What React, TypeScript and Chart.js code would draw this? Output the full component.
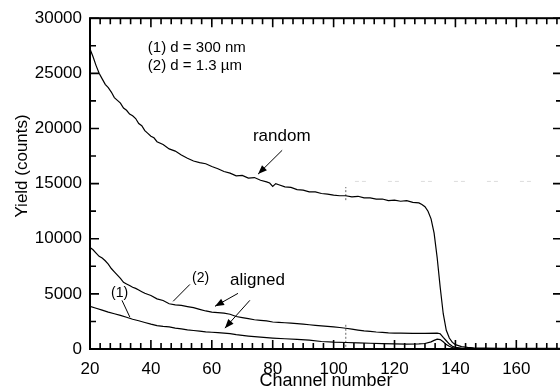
import React, { useEffect, useRef } from "react";
import { Chart, registerables } from "chart.js";

Chart.register(...registerables);

// ---- data ----
const xTickValues = [20, 40, 60, 80, 100, 120, 140, 160];
const yTickValues = [0, 5000, 10000, 15000, 20000, 25000, 30000];

const randomChannels = [
  20, 21, 22, 23, 24, 25, 26, 27, 28, 29, 30, 31, 32, 33, 34, 35, 36, 37, 38, 39, 40, 41, 42, 44, 46, 48, 50,
  52, 54, 56, 58, 60, 62, 64, 66, 68, 70, 72, 74, 76, 78, 79, 80, 81, 82, 84, 86, 88, 90, 92, 94, 96, 98, 100,
  102, 104, 106, 108, 110, 112, 114, 116, 118, 120, 122, 124, 126, 128, 129, 130, 131, 132, 133, 134, 135,
  136, 137, 138, 139, 140, 142, 144, 146, 150, 155, 160, 165, 170, 175,
];
const randomYield = [
  27200, 26500, 25700, 25000, 24500, 24000, 23700, 23300, 22800, 22550, 22300, 21850, 21650, 21300, 21150,
  20900, 20450, 20250, 19800, 19550, 19300, 19150, 18800, 18550, 18150, 17950, 17600, 17300, 17050, 16900,
  16800, 16550, 16350, 16100, 15950, 15700, 15750, 15500, 15550, 15300, 15150, 15050, 14750, 15000, 14900,
  14700, 14650, 14450, 14400, 14250, 14250, 14100, 14050, 13950, 13900, 13900, 13800, 13850, 13700, 13700,
  13600, 13600, 13450, 13500, 13400, 13450, 13300, 13250, 13100, 12900, 12500, 11800, 10500, 8300, 5600,
  3200, 1700, 1000, 600, 400, 220, 150, 100, 80, 60, 60, 50, 50, 50,
];

const aligned2Channels = [
  20, 21, 22, 23, 24, 25, 26, 27, 28, 29, 30, 31, 32, 33, 34, 35, 36, 37, 38, 40, 42, 44, 46, 48, 50, 52, 54,
  56, 58, 60, 62, 64, 66, 68, 70, 72, 74, 76, 78, 80, 82, 84, 86, 88, 90, 92, 94, 96, 98, 100, 102, 104, 106,
  108, 110, 112, 114, 116, 118, 120, 122, 126, 130, 134, 135, 136, 137, 138, 139, 140, 142, 145, 150, 160, 175,
];
const aligned2Yield = [
  9200, 9000, 8700, 8400, 8250, 8000, 7700, 7300, 7000, 6700, 6400, 6050, 5900, 5750, 5600, 5500, 5350, 5200,
  5050, 4850, 4550, 4400, 4100, 4000, 3950, 3850, 3750, 3600, 3450, 3350, 3300, 3250, 3150, 2950, 2850, 2750,
  2650, 2600, 2550, 2450, 2420, 2380, 2340, 2300, 2250, 2200, 2150, 2100, 2050, 2000, 1950, 1880, 1800, 1720,
  1650, 1600, 1540, 1500, 1460, 1440, 1440, 1420, 1420, 1440, 1380, 1050, 750, 450, 250, 150, 80, 40, 20, 20,
  20,
];

const aligned1Channels = [
  20, 22, 24, 26, 28, 30, 32, 34, 36, 38, 40, 42, 44, 46, 48, 50, 52, 54, 56, 58, 60, 62, 64, 66, 68, 70, 72,
  74, 76, 78, 80, 84, 88, 92, 96, 100, 104, 108, 112, 116, 120, 124, 128, 130, 132, 133, 134, 135, 136, 137,
  138, 139, 140, 145, 175,
];
const aligned1Yield = [
  3870, 3700, 3520, 3350, 3200, 3050, 2880, 2700, 2560, 2400, 2250, 2120, 2050, 2000, 1900, 1820, 1740, 1680,
  1620, 1560, 1520, 1480, 1440, 1400, 1300, 1230, 1170, 1120, 1080, 1030, 990, 930, 880, 800, 680, 620, 590,
  550, 520, 480, 460, 450, 460, 500, 650, 780, 900, 850, 650, 400, 250, 120, 60, 20, 20,
];

const markerUpperChannels = [104, 104];
const markerUpperYield = [13500, 14700];
const markerLowerChannels = [104, 104];
const markerLowerYield = [200, 2200];
const faintChannels = [107, 172];
const faintYield = [15200, 15200];

const xTitle = "Channel number";
const yTitle = "Yield (counts)";

// annotation texts (positions in data units)
const notes = [
  { text: "(1) d = 300 nm", x: 39, y: 26940, size: 15 },
  { text: "(2) d = 1.3 \u00b5m", x: 39, y: 25315, size: 15 },
  { text: "random", x: 73.5, y: 18830, size: 17 },
  { text: "aligned", x: 66, y: 5770, size: 17 },
  { text: "(2)", x: 53.5, y: 6036, size: 14 },
  { text: "(1)", x: 26.9, y: 4685, size: 14 },
];
const arrows = [
  { x1: 83.1, y1: 18020, x2: 75.2, y2: 15860, head: true },
  { x1: 68.6, y1: 5045, x2: 61.05, y2: 3874, head: true },
  { x1: 72.5, y1: 4414, x2: 64.3, y2: 1892, head: true },
  { x1: 52.8, y1: 5856, x2: 47.3, y2: 4324, head: false },
  { x1: 30.5, y1: 4414, x2: 33.1, y2: 2883, head: false },
];

const FONT = "'Liberation Sans', Arial, Helvetica, sans-serif";

const pts = (xs: number[], ys: number[]) => xs.map((x, i) => ({ x, y: ys[i] }));

const framePlugin = {
  id: "framePlugin",
  afterDraw(chart: any) {
    const { ctx, chartArea, scales } = chart;
    const xs = scales.x;
    const ys = scales.y;
    const { left, right, top, bottom } = chartArea;
    ctx.save();
    ctx.strokeStyle = "#000";
    ctx.lineWidth = 2;
    ctx.strokeRect(left, top, right - left, bottom - top);

    ctx.lineWidth = 1.6;
    ctx.beginPath();
    // x ticks: majors at xTickValues, 5 minors between
    const xStep = xTickValues[1] - xTickValues[0];
    for (let v = xTickValues[0]; v <= xs.max + 0.001; v += xStep / 6) {
      const rel = Math.round(((v - xTickValues[0]) / xStep) * 6);
      const major = rel % 6 === 0;
      const len = major ? 9 : 6;
      const px = xs.getPixelForValue(v);
      ctx.moveTo(px, bottom);
      ctx.lineTo(px, bottom - len);
      ctx.moveTo(px, top);
      ctx.lineTo(px, top + len);
    }
    const yStep = yTickValues[1] - yTickValues[0];
    for (let v = yTickValues[0]; v <= ys.max + 0.001; v += yStep / 2) {
      const major = Math.round(v) % yStep === 0;
      const len = major ? 9 : 6;
      const py = ys.getPixelForValue(v);
      ctx.moveTo(left, py);
      ctx.lineTo(left + len, py);
      ctx.moveTo(right, py);
      ctx.lineTo(right - len, py);
    }
    ctx.stroke();

    // annotations
    ctx.fillStyle = "#000";
    ctx.textAlign = "left";
    ctx.textBaseline = "alphabetic";
    for (const n of notes) {
      ctx.font = `${n.size}px ${FONT}`;
      ctx.fillText(n.text, xs.getPixelForValue(n.x), ys.getPixelForValue(n.y));
    }
    ctx.lineWidth = 1;
    for (const a of arrows) {
      const x1 = xs.getPixelForValue(a.x1);
      const y1 = ys.getPixelForValue(a.y1);
      const x2 = xs.getPixelForValue(a.x2);
      const y2 = ys.getPixelForValue(a.y2);
      ctx.beginPath();
      ctx.moveTo(x1, y1);
      ctx.lineTo(x2, y2);
      ctx.stroke();
      if (a.head) {
        const ang = Math.atan2(y2 - y1, x2 - x1);
        const L = 9;
        const W = 3.5;
        const bx = x2 - L * Math.cos(ang);
        const by = y2 - L * Math.sin(ang);
        ctx.beginPath();
        ctx.moveTo(x2, y2);
        ctx.lineTo(bx + W * Math.sin(ang), by - W * Math.cos(ang));
        ctx.lineTo(bx - W * Math.sin(ang), by + W * Math.cos(ang));
        ctx.closePath();
        ctx.fill();
      }
    }

    // axis titles
    ctx.font = `18px ${FONT}`;
    ctx.textAlign = "center";
    ctx.textBaseline = "alphabetic";
    ctx.fillText(xTitle, (left + right) / 2, bottom + 37);
    ctx.save();
    ctx.translate(22, ys.getPixelForValue(16600));
    ctx.rotate(-Math.PI / 2);
    ctx.font = `17px ${FONT}`;
    ctx.textBaseline = "middle";
    ctx.fillText(yTitle, 0, 0);
    ctx.restore();
    ctx.restore();
  },
};

export default function App() {
  const ref = useRef<HTMLCanvasElement | null>(null);
  useEffect(() => {
    if (!ref.current) return;
    const line = (data: any, extra: any = {}) => ({
      data,
      borderColor: "#000",
      borderWidth: 1.2,
      pointRadius: 0,
      tension: 0,
      fill: false,
      ...extra,
    });
    const chart = new Chart(ref.current, {
      type: "line",
      data: {
        datasets: [
          line(pts(randomChannels, randomYield)),
          line(pts(aligned2Channels, aligned2Yield)),
          line(pts(aligned1Channels, aligned1Yield)),
          line(pts(markerUpperChannels, markerUpperYield), { borderColor: "#666", borderDash: [2, 2], borderWidth: 1 }),
          line(pts(markerLowerChannels, markerLowerYield), { borderColor: "#666", borderDash: [2, 2], borderWidth: 1 }),
          line(pts(faintChannels, faintYield), { borderColor: "#dcdcdc", borderDash: [4, 3, 4, 22], borderWidth: 1 }),
        ],
      },
      options: {
        responsive: false,
        animation: false,
        events: [],
        layout: { padding: { top: 16, right: 8, left: 0, bottom: 0 } },
        plugins: { legend: { display: false }, tooltip: { enabled: false } },
        scales: {
          x: {
            type: "linear",
            min: 20,
            max: 175,
            grid: { display: false, drawTicks: false },
            border: { display: false },
            afterBuildTicks: (s: any) => {
              s.ticks = xTickValues.map((v) => ({ value: v }));
            },
            afterFit: (s: any) => {
              s.height = 38;
            },
            ticks: {
              padding: 10,
              color: "#000",
              font: { family: FONT, size: 17 },
              maxRotation: 0,
              autoSkip: false,
            },
          },
          y: {
            type: "linear",
            min: 0,
            max: 30000,
            grid: { display: false, drawTicks: false },
            border: { display: false },
            afterBuildTicks: (s: any) => {
              s.ticks = yTickValues.map((v) => ({ value: v }));
            },
            afterFit: (s: any) => {
              s.width = 90;
            },
            ticks: {
              padding: 8,
              color: "#000",
              font: { family: FONT, size: 17 },
              callback: (v: any) => String(v),
            },
          },
        },
      },
      plugins: [framePlugin],
    } as any);
    return () => chart.destroy();
  }, []);
  return (
    <div style={{ position: "absolute", left: 0, top: 0, width: 570, height: 387, background: "#fff" }}>
      <canvas ref={ref} width={570} height={387} />
    </div>
  );
}
